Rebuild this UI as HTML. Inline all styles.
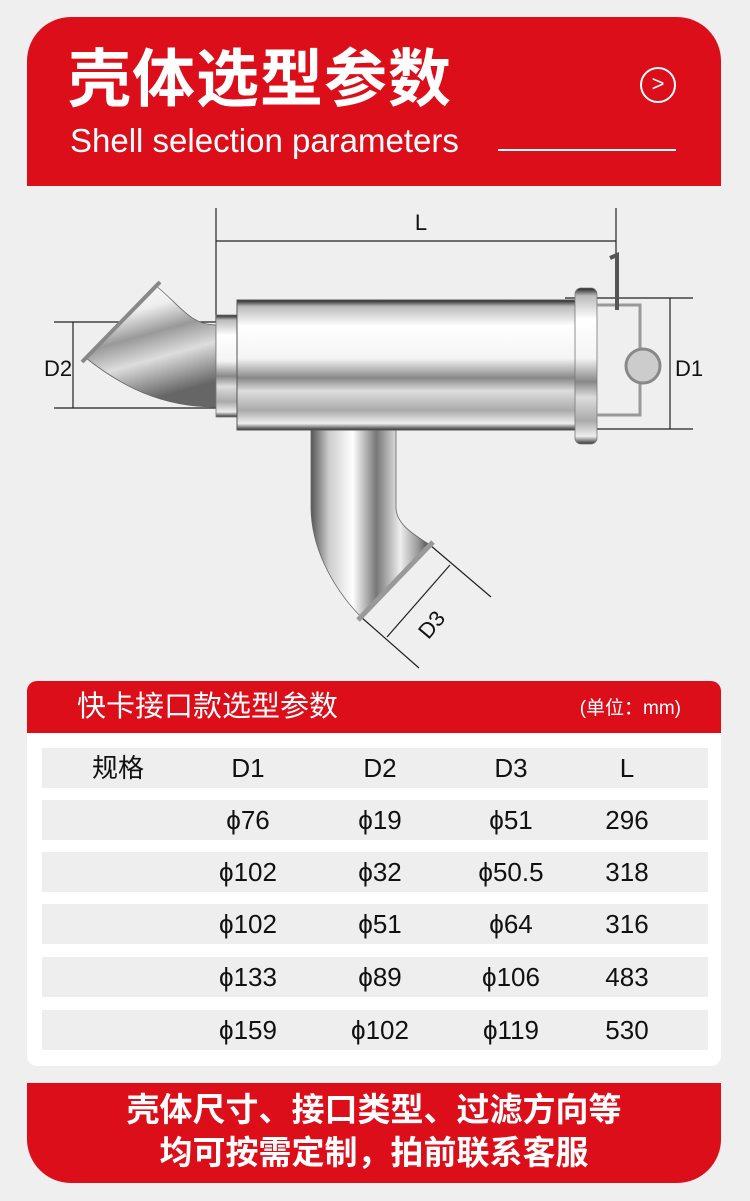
<!DOCTYPE html>
<html><head><meta charset="utf-8"><style>
*{margin:0;padding:0;box-sizing:border-box}
body{width:750px;height:1201px;background:#efefef;position:relative;overflow:hidden;font-family:"Liberation Sans","Noto Sans CJK SC",sans-serif}
.hd{position:absolute;left:27px;top:17px;width:694px;height:169px;background:#db0e1a;border-radius:44px 44px 0 0}
.t1{position:absolute;left:68px;top:42px;font-size:63px;font-weight:bold;color:#fff;line-height:76px;letter-spacing:1px}
.t2{position:absolute;left:70px;top:121px;font-size:33px;color:#fff;line-height:40px}
.ul{position:absolute;left:498px;top:149px;width:178px;height:2px;background:#fff}
.ci{position:absolute;left:640px;top:67px;width:36px;height:36px;border:2.5px solid #fff;border-radius:50%;color:#fff;font-size:22px;line-height:30px;text-align:center}
.card{position:absolute;left:27px;top:681px;width:694px;height:385px;background:#fff;border-radius:10px;overflow:hidden}
.ch{height:52px;background:#db0e1a;position:relative}
.ch .a{position:absolute;left:50px;top:7px;color:#fff;font-size:29px;line-height:38px}
.ch .b{position:absolute;right:40px;top:15px;color:#fff;font-size:19px;line-height:26px}
.row{position:absolute;left:15px;width:666px;height:40px;background:#eeeeee}
.row span{position:absolute;top:0;line-height:40px;font-size:26px;color:#111;transform:translateX(-50%);white-space:nowrap}
.bt{position:absolute;left:27px;top:1083px;width:694px;height:100px;background:#db0e1a;border-radius:0 0 44px 44px;color:#fff;font-weight:bold;font-size:33px;text-align:center;line-height:43px;padding-top:5px}
</style></head><body>
<div class="hd"></div>
<div class="t1">壳体选型参数</div>
<div class="t2">Shell selection parameters</div>
<div class="ul"></div>
<div class="ci">&gt;</div>

<svg style="position:absolute;left:0;top:186px" width="750" height="495" viewBox="0 186 750 495">
<defs>
<linearGradient id="gv" x1="0" y1="0" x2="0" y2="1">
<stop offset="0" stop-color="#222"/><stop offset="0.05" stop-color="#bbb"/><stop offset="0.2" stop-color="#fff"/><stop offset="0.45" stop-color="#f4f4f4"/><stop offset="0.6" stop-color="#888"/><stop offset="0.7" stop-color="#ddd"/><stop offset="0.85" stop-color="#aaa"/><stop offset="0.95" stop-color="#eee"/><stop offset="1" stop-color="#333"/></linearGradient>
<linearGradient id="gh" x1="0" y1="0" x2="1" y2="0">
<stop offset="0" stop-color="#555"/><stop offset="0.15" stop-color="#ccc"/><stop offset="0.35" stop-color="#fff"/><stop offset="0.55" stop-color="#777"/><stop offset="0.75" stop-color="#eee"/><stop offset="0.9" stop-color="#999"/><stop offset="1" stop-color="#444"/></linearGradient>
<linearGradient id="gd" x1="0" y1="0" x2="0.3" y2="1">
<stop offset="0" stop-color="#fff"/><stop offset="0.3" stop-color="#eee"/><stop offset="0.5" stop-color="#999"/><stop offset="0.7" stop-color="#ddd"/><stop offset="1" stop-color="#666"/></linearGradient>
</defs>
<g fill="none" stroke="#222" stroke-width="1.2">
<path d="M216 208V322M616 208V290M216 241H616"/>
<path d="M54 322H216M54 408H216M73 322V408"/>
<path d="M565 298H693M565 429H693M670 298V429"/>
<path d="M430 545L491 597M361 617L419 668M450 565L387 637"/>
</g>
<text x="421" y="230" font-size="22" text-anchor="middle" fill="#111">L</text>
<text x="58" y="376" font-size="22" text-anchor="middle" fill="#111">D2</text>
<text x="689" y="376" font-size="22" text-anchor="middle" fill="#111">D1</text>
<text x="432" y="632" font-size="22" text-anchor="middle" fill="#111" transform="rotate(-50 432 625)">D3</text>
<path d="M155 285C180 305 190 325 216 325V407C160 407 120 385 86 358Z" fill="url(#gd)" stroke="#666" stroke-width="0.8"/>
<path d="M160 282L82 362" stroke="#888" stroke-width="4"/>
<rect x="216" y="315" width="22" height="102" fill="url(#gv)" stroke="#777" stroke-width="0.8"/>
<path d="M311 420H396V507C396 525 415 535 430 545L361 617C330 585 311 545 311 507Z" fill="url(#gh)" stroke="#666" stroke-width="0.8"/>
<path d="M433 542L358 620" stroke="#999" stroke-width="5"/>
<ellipse cx="360" cy="421" rx="50" ry="7" fill="#ddd" stroke="#888"/>
<rect x="237" y="300" width="354" height="130" fill="url(#gv)" stroke="#555" stroke-width="1"/>
<rect x="575" y="288" width="22" height="156" rx="6" fill="url(#gv)" stroke="#777" stroke-width="0.8"/>
<path d="M597 305H640V415H597" fill="none" stroke="#999" stroke-width="3"/>
<path d="M610 258L617 255V310" stroke="#555" stroke-width="4" fill="none"/>
<circle cx="643" cy="366" r="17" fill="#ccc" stroke="#888" stroke-width="3"/>
</svg>

<div class="card">
<div class="ch"><span class="a">快卡接口款选型参数</span><span class="b">(单位：mm)</span></div>
<div class="row" style="top:67px"><span style="left:76px">规格</span><span style="left:206px">D1</span><span style="left:338px">D2</span><span style="left:469px">D3</span><span style="left:585px">L</span></div>
<div class="row" style="top:119px"><span style="left:206px">ϕ76</span><span style="left:338px">ϕ19</span><span style="left:469px">ϕ51</span><span style="left:585px">296</span></div>
<div class="row" style="top:171px"><span style="left:206px">ϕ102</span><span style="left:338px">ϕ32</span><span style="left:469px">ϕ50.5</span><span style="left:585px">318</span></div>
<div class="row" style="top:223px"><span style="left:206px">ϕ102</span><span style="left:338px">ϕ51</span><span style="left:469px">ϕ64</span><span style="left:585px">316</span></div>
<div class="row" style="top:276px"><span style="left:206px">ϕ133</span><span style="left:338px">ϕ89</span><span style="left:469px">ϕ106</span><span style="left:585px">483</span></div>
<div class="row" style="top:329px"><span style="left:206px">ϕ159</span><span style="left:338px">ϕ102</span><span style="left:469px">ϕ119</span><span style="left:585px">530</span></div>
</div>

<div class="bt">壳体尺寸、接口类型、过滤方向等<br>均可按需定制，拍前联系客服</div>
</body></html>
